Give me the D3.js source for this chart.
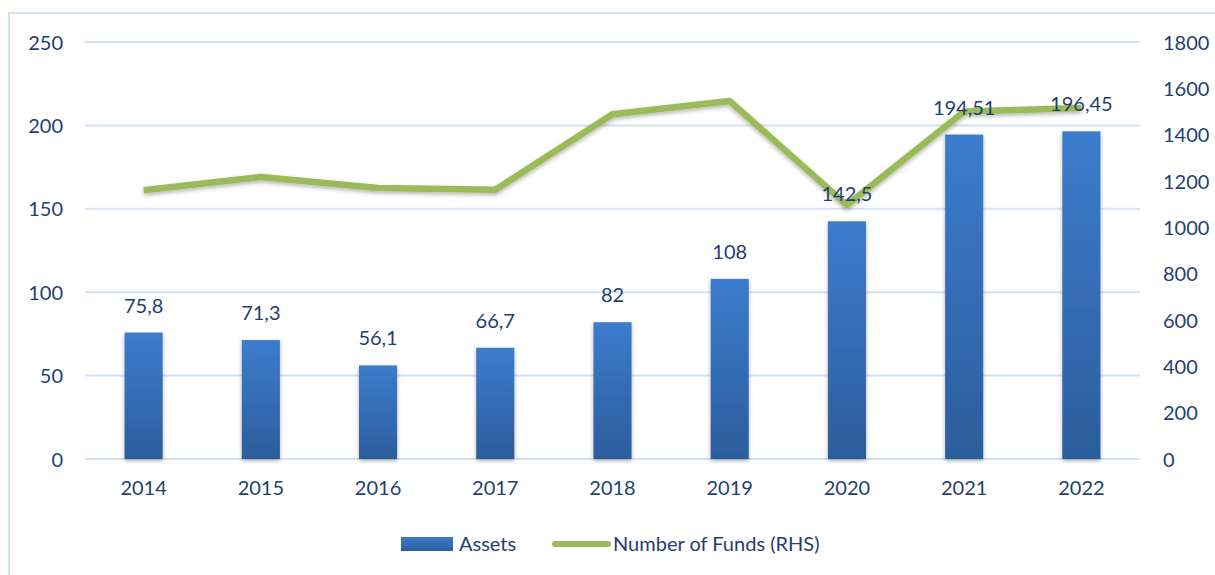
<!DOCTYPE html>
<html>
<head>
<meta charset="utf-8">
<script src="https://cdn.jsdelivr.net/npm/d3@7"></script>
<style>
  body { margin: 0; background: #fff; }
  text { font-family: Lato, "Open Sans", sans-serif; fill: #1f3f6f; }
</style>
</head>
<body>
<div id="chart"></div>
<script>
// chart data
var years = ["2014", "2015", "2016", "2017", "2018", "2019", "2020", "2021", "2022"];
var assets = [75.8, 71.3, 56.1, 66.7, 82, 108, 142.5, 194.51, 196.45];
var assetLabels = ["75,8", "71,3", "56,1", "66,7", "82", "108", "142,5", "194,51", "196,45"];
var funds = [1160, 1217, 1170, 1162, 1488, 1545, 1096, 1500, 1515];
var leftTicks = [0, 50, 100, 150, 200, 250];
var rightTicks = [0, 200, 400, 600, 800, 1000, 1200, 1400, 1600, 1800];

var W = 1215, H = 575;
var svg = d3.select("#chart").append("svg")
    .attr("width", W)
    .attr("height", H);

var defs = svg.append("defs");
var grad = defs.append("linearGradient")
    .attr("id", "barGrad")
    .attr("x1", 0).attr("y1", 0).attr("x2", 0).attr("y2", 1);
grad.append("stop").attr("offset", "0%").attr("stop-color", "#3c7ccd");
grad.append("stop").attr("offset", "100%").attr("stop-color", "#2c5d9c");

var shadow = defs.append("filter").attr("id", "shadow")
    .attr("x", "-20%").attr("y", "-20%").attr("width", "140%").attr("height", "140%");
shadow.append("feDropShadow")
    .attr("dx", 0).attr("dy", 2).attr("stdDeviation", 2)
    .attr("flood-color", "#000").attr("flood-opacity", 0.3);

// outer border of the chart area
svg.append("rect")
    .attr("x", 9).attr("y", 13)
    .attr("width", W + 10).attr("height", H + 10)
    .attr("fill", "none")
    .attr("stroke", "#d5e2f3")
    .attr("stroke-width", 2);

var plotLeft = 85, plotRight = 1140, plotTop = 42, plotBottom = 459;

var x = d3.scaleBand()
    .domain(years)
    .range([plotLeft, plotRight])
    .paddingInner(0.675)
    .paddingOuter(0.3375);

var y = d3.scaleLinear().domain([0, 250]).range([plotBottom, plotTop]);
var y2 = d3.scaleLinear().domain([0, 1800]).range([plotBottom, plotTop]);

// gridlines
svg.append("g")
    .selectAll("line")
    .data(leftTicks)
    .enter().append("line")
    .attr("x1", plotLeft).attr("x2", plotRight)
    .attr("y1", function (d) { return y(d); })
    .attr("y2", function (d) { return y(d); })
    .attr("stroke", "#d5e2f3")
    .attr("stroke-width", 2);

// left axis
var axL = svg.append("g")
    .attr("transform", "translate(63,0)")
    .call(d3.axisLeft(y).tickValues(leftTicks).tickSize(0).tickPadding(0));
axL.select(".domain").remove();
axL.selectAll("text").attr("font-size", 20).attr("dy", "0.35em");

// right axis
var axR = svg.append("g")
    .attr("transform", "translate(1163,0)")
    .call(d3.axisRight(y2).tickValues(rightTicks).tickFormat(d3.format("d"))
        .tickSize(0).tickPadding(0));
axR.select(".domain").remove();
axR.selectAll("text").attr("font-size", 20).attr("dy", "0.35em");

// bottom axis labels
var axB = svg.append("g")
    .attr("transform", "translate(0," + (plotBottom + 21) + ")")
    .call(d3.axisBottom(x).tickSize(0).tickPadding(0));
axB.select(".domain").remove();
axB.selectAll("text").attr("font-size", 20).attr("dy", "0.75em");

// bars
svg.append("g")
    .selectAll("rect")
    .data(assets)
    .enter().append("rect")
    .attr("x", function (d, i) { return x(years[i]); })
    .attr("y", function (d) { return y(d); })
    .attr("width", x.bandwidth())
    .attr("height", function (d) { return plotBottom - y(d); })
    .attr("fill", "url(#barGrad)")
    .attr("filter", "url(#shadow)");

// line for number of funds
var line = d3.line()
    .x(function (d, i) { return x(years[i]) + x.bandwidth() / 2; })
    .y(function (d) { return y2(d); });

svg.append("path")
    .datum(funds)
    .attr("d", line)
    .attr("fill", "none")
    .attr("stroke", "#9bbb59")
    .attr("stroke-width", 6.5)
    .attr("stroke-linejoin", "round")
    .attr("filter", "url(#shadow)");

// bar value labels
svg.append("g")
    .selectAll("text")
    .data(assets)
    .enter().append("text")
    .attr("x", function (d, i) { return x(years[i]) + x.bandwidth() / 2; })
    .attr("y", function (d) { return y(d) - 20; })
    .attr("text-anchor", "middle")
    .attr("font-size", 20)
    .text(function (d, i) { return assetLabels[i]; });

// legend
var lg = svg.append("g");
lg.append("rect")
    .attr("x", 401).attr("y", 537)
    .attr("width", 52).attr("height", 14)
    .attr("fill", "url(#barGrad)");
lg.append("text")
    .attr("x", 459).attr("y", 544)
    .attr("dy", "0.35em")
    .attr("font-size", 20)
    .text("Assets");
lg.append("line")
    .attr("x1", 555).attr("x2", 608)
    .attr("y1", 544).attr("y2", 544)
    .attr("stroke", "#9bbb59")
    .attr("stroke-width", 6)
    .attr("stroke-linecap", "round");
lg.append("text")
    .attr("x", 613).attr("y", 544)
    .attr("dy", "0.35em")
    .attr("font-size", 20)
    .text("Number of Funds (RHS)");
</script>
</body>
</html>
